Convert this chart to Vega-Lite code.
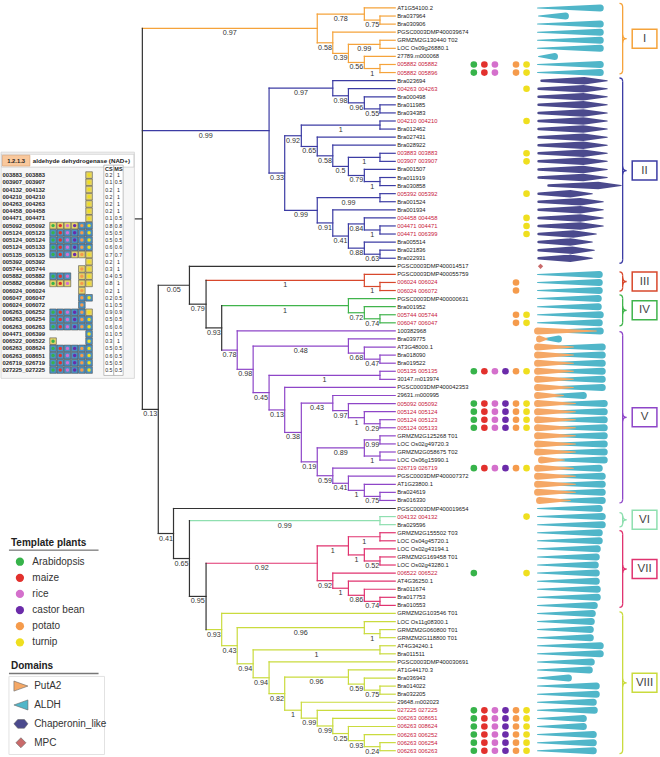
{
"$schema": "https://vega.github.io/schema/vega-lite/v6.json",
"width": 660, "height": 757,
"autosize": {"type": "fit", "contains": "padding"},
"padding": 0,
"background": "white",
"config": {"view": {"stroke": null}, "axis": {"disable": true}, "legend": {"disable": true}, "font": "Liberation Sans"},
"datasets": {
"edges": [
{"p":"top","c":"root","d":130,"e":142,"n":27.126,"g":"K"},
{"p":"root","c":"cI","d":142,"e":317.7,"n":3.5313,"g":"I","b":"0.97"},
{"p":"cI","c":"n78","d":317.7,"e":365,"n":1.75,"g":"I","b":"0.78"},
{"p":"n78","c":"n75","d":365,"e":380.7,"n":2.5,"g":"I","b":"0.75"},
{"p":"cI","c":"n58","d":317.7,"e":333.3,"n":5.3125,"g":"I","b":"0.58"},
{"p":"n58","c":"n39","d":333.3,"e":349,"n":6.625,"g":"I","b":"0.39"},
{"p":"n39","c":"n99a","d":349,"e":380.7,"n":5.5,"g":"I","b":"0.99"},
{"p":"n39","c":"n56","d":349,"e":365,"n":7.75,"g":"I","b":"0.56"},
{"p":"n56","c":"n1a","d":365,"e":380.7,"n":8.5,"g":"I","b":"1"},
{"p":"root","c":"cII","d":142,"e":269.3,"n":16.1914,"g":"II","b":"0.99"},
{"p":"cII","c":"n97b","d":269.3,"e":333.3,"n":10.9375,"g":"II","b":"0.97"},
{"p":"n97b","c":"n98","d":333.3,"e":349,"n":11.875,"g":"II","b":"0.98"},
{"p":"n98","c":"n96","d":349,"e":365,"n":12.75,"g":"II","b":"0.96"},
{"p":"n96","c":"n55","d":365,"e":380.7,"n":13.5,"g":"II","b":"0.55"},
{"p":"cII","c":"n33","d":269.3,"e":285,"n":21.4453,"g":"II","b":"0.33"},
{"p":"n33","c":"n92","d":285,"e":301.7,"n":16.8281,"g":"II","b":"0.92"},
{"p":"n92","c":"n1b","d":301.7,"e":380.7,"n":15.5,"g":"II","b":"1"},
{"p":"n92","c":"n65","d":301.7,"e":317.7,"n":18.1563,"g":"II","b":"0.65"},
{"p":"n65","c":"n58b","d":317.7,"e":333.3,"n":19.3125,"g":"II","b":"0.58"},
{"p":"n58b","c":"n5","d":333.3,"e":349,"n":20.625,"g":"II","b":"0.5"},
{"p":"n5","c":"n1d","d":349,"e":380.7,"n":19.5,"g":"II","b":"1"},
{"p":"n5","c":"n79","d":349,"e":365,"n":21.75,"g":"II","b":"0.79"},
{"p":"n79","c":"n1c","d":365,"e":380.7,"n":22.5,"g":"II","b":"1"},
{"p":"n33","c":"n99d","d":285,"e":317.7,"n":26.0625,"g":"II","b":"0.99"},
{"p":"n99d","c":"n99c","d":317.7,"e":380.7,"n":24.5,"g":"II","b":"0.99"},
{"p":"n99d","c":"n91","d":317.7,"e":333.3,"n":27.625,"g":"II","b":"0.91"},
{"p":"n91","c":"n41","d":333.3,"e":349,"n":29.25,"g":"II","b":"0.41"},
{"p":"n41","c":"n84","d":349,"e":365,"n":27.75,"g":"II","b":"0.84"},
{"p":"n84","c":"n1e","d":365,"e":380.7,"n":28.5,"g":"II","b":"1"},
{"p":"n41","c":"n88","d":349,"e":365,"n":30.75,"g":"II","b":"0.88"},
{"p":"n88","c":"n63","d":365,"e":380.7,"n":31.5,"g":"II","b":"0.63"},
{"p":"root","c":"n13","d":142,"e":158,"n":50.7207,"g":"K","b":"0.13"},
{"p":"n13","c":"n05","d":158,"e":189.3,"n":35.3444,"g":"K","b":"0.05"},
{"p":"n05","c":"n79b","d":189.3,"e":206,"n":37.6887,"g":"K","b":"0.79"},
{"p":"n79b","c":"cIII","d":206,"e":365,"n":34.75,"g":"III","b":"1"},
{"p":"cIII","c":"n1f","d":365,"e":380.7,"n":35.5,"g":"III","b":"1"},
{"p":"n79b","c":"n93","d":206,"e":221.7,"n":40.6274,"g":"K","b":"0.93"},
{"p":"n93","c":"cIV","d":221.7,"e":349,"n":37.875,"g":"IV","b":"1"},
{"p":"cIV","c":"n72","d":349,"e":365,"n":38.75,"g":"IV","b":"0.72"},
{"p":"n72","c":"n74","d":365,"e":380.7,"n":39.5,"g":"IV","b":"0.74"},
{"p":"n93","c":"n78b","d":221.7,"e":237.3,"n":43.3799,"g":"V","b":"0.78"},
{"p":"n78b","c":"n98b","d":237.3,"e":253.3,"n":45.7598,"g":"V","b":"0.98"},
{"p":"n98b","c":"n48","d":253.3,"e":349,"n":42.875,"g":"V","b":"0.48"},
{"p":"n48","c":"n68","d":349,"e":365,"n":43.75,"g":"V","b":"0.68"},
{"p":"n68","c":"n47","d":365,"e":380.7,"n":44.5,"g":"V","b":"0.47"},
{"p":"n98b","c":"n45","d":253.3,"e":269.3,"n":48.6445,"g":"V","b":"0.45"},
{"p":"n45","c":"n1g","d":269.3,"e":380.7,"n":46.5,"g":"V","b":"1"},
{"p":"n45","c":"n13b","d":269.3,"e":285,"n":50.7891,"g":"V","b":"0.13"},
{"p":"n13b","c":"n38","d":285,"e":301.7,"n":53.5781,"g":"V","b":"0.38"},
{"p":"n38","c":"n43","d":301.7,"e":333.3,"n":49.9375,"g":"V","b":"0.43"},
{"p":"n43","c":"n97c","d":333.3,"e":349,"n":50.875,"g":"V","b":"0.97"},
{"p":"n97c","c":"n1h","d":349,"e":365,"n":51.75,"g":"V","b":"1"},
{"p":"n1h","c":"n29","d":365,"e":380.7,"n":52.5,"g":"V","b":"0.29"},
{"p":"n38","c":"n19","d":301.7,"e":317.7,"n":57.2188,"g":"V","b":"0.19"},
{"p":"n19","c":"n89","d":317.7,"e":365,"n":55.5,"g":"V","b":"0.89"},
{"p":"n89","c":"n99e","d":365,"e":380.7,"n":54.5,"g":"V","b":"0.99"},
{"p":"n89","c":"n1i","d":365,"e":380.7,"n":56.5,"g":"V","b":"1"},
{"p":"n19","c":"n59","d":317.7,"e":333.3,"n":58.9375,"g":"V","b":"0.59"},
{"p":"n59","c":"n41b","d":333.3,"e":349,"n":59.875,"g":"V","b":"0.41"},
{"p":"n41b","c":"n1j","d":349,"e":365,"n":60.75,"g":"V","b":"1"},
{"p":"n1j","c":"n75b","d":365,"e":380.7,"n":61.5,"g":"V","b":"0.75"},
{"p":"n13","c":"n41c","d":158,"e":173.3,"n":66.0971,"g":"K","b":"0.41"},
{"p":"n41c","c":"n65b","d":173.3,"e":189.3,"n":69.1942,"g":"K","b":"0.65"},
{"p":"n65b","c":"cVI","d":189.3,"e":380.7,"n":64.5,"g":"VI","b":"0.99"},
{"p":"n65b","c":"n95","d":189.3,"e":206,"n":73.8884,"g":"K","b":"0.95"},
{"p":"n95","c":"cVII","d":206,"e":317.7,"n":69.7813,"g":"VII","b":"0.92"},
{"p":"cVII","c":"n1m","d":317.7,"e":349,"n":67.625,"g":"VII","b":"1"},
{"p":"n1m","c":"n1k","d":349,"e":380.7,"n":66.5,"g":"VII","b":"1"},
{"p":"n1m","c":"n1l","d":349,"e":365,"n":68.75,"g":"VII","b":"1"},
{"p":"n1l","c":"n52","d":365,"e":380.7,"n":69.5,"g":"VII","b":"0.52"},
{"p":"cVII","c":"n92b","d":317.7,"e":333.3,"n":71.9375,"g":"VII","b":"0.92"},
{"p":"n92b","c":"n1n","d":333.3,"e":349,"n":72.875,"g":"VII","b":"1"},
{"p":"n1n","c":"n86","d":349,"e":365,"n":73.75,"g":"VII","b":"0.86"},
{"p":"n86","c":"n74b","d":365,"e":380.7,"n":74.5,"g":"VII","b":"0.74"},
{"p":"n95","c":"cVIII","d":206,"e":221.7,"n":77.9956,"g":"VIII","b":"0.93"},
{"p":"cVIII","c":"n43b","d":221.7,"e":237.3,"n":79.9912,"g":"VIII","b":"0.43"},
{"p":"n43b","c":"n96b","d":237.3,"e":365,"n":77.75,"g":"VIII","b":"0.96"},
{"p":"n96b","c":"n1o","d":365,"e":380.7,"n":78.5,"g":"VIII","b":"1"},
{"p":"n43b","c":"n94a","d":237.3,"e":253.3,"n":82.2324,"g":"VIII","b":"0.94"},
{"p":"n94a","c":"n1p","d":253.3,"e":380.7,"n":80.5,"g":"VIII","b":"1"},
{"p":"n94a","c":"n94b","d":253.3,"e":269.3,"n":83.9648,"g":"VIII","b":"0.94"},
{"p":"n94b","c":"n82","d":269.3,"e":285,"n":85.9297,"g":"VIII","b":"0.82"},
{"p":"n82","c":"n96c","d":285,"e":349,"n":83.875,"g":"VIII","b":"0.96"},
{"p":"n96c","c":"n59b","d":349,"e":365,"n":84.75,"g":"VIII","b":"0.59"},
{"p":"n59b","c":"n75c","d":365,"e":380.7,"n":85.5,"g":"VIII","b":"0.75"},
{"p":"n82","c":"n1q","d":285,"e":301.7,"n":87.9844,"g":"VIII","b":"1"},
{"p":"n1q","c":"n99g","d":301.7,"e":317.7,"n":88.9688,"g":"VIII","b":"0.99"},
{"p":"n99g","c":"n99f","d":317.7,"e":333.3,"n":89.9375,"g":"VIII","b":"0.99"},
{"p":"n99f","c":"n25","d":333.3,"e":349,"n":90.875,"g":"VIII","b":"0.25"},
{"p":"n25","c":"n93b","d":349,"e":365,"n":91.75,"g":"VIII","b":"0.93"},
{"p":"n93b","c":"n24","d":365,"e":380.7,"n":92.5,"g":"VIII","b":"0.24"},
{"p":"n78","d":365,"n":1,"g":"I","t":"AT1G54100.2"},
{"p":"n75","d":380.7,"n":2,"g":"I","t":"Bra037964"},
{"p":"n75","d":380.7,"n":3,"g":"I","t":"Bra030906"},
{"p":"n58","d":333.3,"n":4,"g":"I","t":"PGSC0003DMP400039674"},
{"p":"n99a","d":380.7,"n":5,"g":"I","t":"GRMZM2G130440 T02"},
{"p":"n99a","d":380.7,"n":6,"g":"I","t":"LOC Os09g26880.1"},
{"p":"n56","d":365,"n":7,"g":"I","t":"27789.m000068"},
{"p":"n1a","d":380.7,"n":8,"g":"I","t":"005882 005882","r":1},
{"p":"n1a","d":380.7,"n":9,"g":"I","t":"005882 005896","r":1},
{"p":"n97b","d":333.3,"n":10,"g":"II","t":"Bra023694"},
{"p":"n98","d":349,"n":11,"g":"II","t":"004263 004263","r":1},
{"p":"n96","d":365,"n":12,"g":"II","t":"Bra000498"},
{"p":"n55","d":380.7,"n":13,"g":"II","t":"Bra011985"},
{"p":"n55","d":380.7,"n":14,"g":"II","t":"Bra034383"},
{"p":"n1b","d":380.7,"n":15,"g":"II","t":"004210 004210","r":1},
{"p":"n1b","d":380.7,"n":16,"g":"II","t":"Bra012462"},
{"p":"n65","d":317.7,"n":17,"g":"II","t":"Bra027431"},
{"p":"n58b","d":333.3,"n":18,"g":"II","t":"Bra028922"},
{"p":"n1d","d":380.7,"n":19,"g":"II","t":"003883 003883","r":1},
{"p":"n1d","d":380.7,"n":20,"g":"II","t":"003907 003907","r":1},
{"p":"n79","d":365,"n":21,"g":"II","t":"Bra001507"},
{"p":"n1c","d":380.7,"n":22,"g":"II","t":"Bra011919"},
{"p":"n1c","d":380.7,"n":23,"g":"II","t":"Bra030858"},
{"p":"n99c","d":380.7,"n":24,"g":"II","t":"005392 005392","r":1},
{"p":"n99c","d":380.7,"n":25,"g":"II","t":"Bra001524"},
{"p":"n91","d":333.3,"n":26,"g":"II","t":"Bra001934"},
{"p":"n84","d":365,"n":27,"g":"II","t":"004458 004458","r":1},
{"p":"n1e","d":380.7,"n":28,"g":"II","t":"004471 004471","r":1},
{"p":"n1e","d":380.7,"n":29,"g":"II","t":"004471 006399","r":1},
{"p":"n88","d":365,"n":30,"g":"II","t":"Bra005514"},
{"p":"n63","d":380.7,"n":31,"g":"II","t":"Bra021836"},
{"p":"n63","d":380.7,"n":32,"g":"II","t":"Bra022931"},
{"p":"n05","d":189.3,"n":33,"g":"K","t":"PGSC0003DMP400014517"},
{"p":"cIII","d":365,"n":34,"g":"III","t":"PGSC0003DMP400055759"},
{"p":"n1f","d":380.7,"n":35,"g":"III","t":"006024 006024","r":1},
{"p":"n1f","d":380.7,"n":36,"g":"III","t":"006024 006072","r":1},
{"p":"cIV","d":349,"n":37,"g":"IV","t":"PGSC0003DMP400000631"},
{"p":"n72","d":365,"n":38,"g":"IV","t":"Bra001952"},
{"p":"n74","d":380.7,"n":39,"g":"IV","t":"005744 005744","r":1},
{"p":"n74","d":380.7,"n":40,"g":"IV","t":"006047 006047","r":1},
{"p":"n78b","d":237.3,"n":41,"g":"V","t":"100382968"},
{"p":"n48","d":349,"n":42,"g":"V","t":"Bra039775"},
{"p":"n68","d":365,"n":43,"g":"V","t":"AT3G48000.1"},
{"p":"n47","d":380.7,"n":44,"g":"V","t":"Bra018090"},
{"p":"n47","d":380.7,"n":45,"g":"V","t":"Bra019522"},
{"p":"n1g","d":380.7,"n":46,"g":"V","t":"005135 005135","r":1},
{"p":"n1g","d":380.7,"n":47,"g":"V","t":"30147.m013974"},
{"p":"n13b","d":285,"n":48,"g":"V","t":"PGSC0003DMP400042353"},
{"p":"n43","d":333.3,"n":49,"g":"V","t":"29631.m000995"},
{"p":"n97c","d":349,"n":50,"g":"V","t":"005092 005092","r":1},
{"p":"n1h","d":365,"n":51,"g":"V","t":"005124 005124","r":1},
{"p":"n29","d":380.7,"n":52,"g":"V","t":"005124 005123","r":1},
{"p":"n29","d":380.7,"n":53,"g":"V","t":"005124 005133","r":1},
{"p":"n99e","d":380.7,"n":54,"g":"V","t":"GRMZM2G125268 T01"},
{"p":"n99e","d":380.7,"n":55,"g":"V","t":"LOC Os02g49720.3"},
{"p":"n1i","d":380.7,"n":56,"g":"V","t":"GRMZM2G058675 T02"},
{"p":"n1i","d":380.7,"n":57,"g":"V","t":"LOC Os06g15990.1"},
{"p":"n59","d":333.3,"n":58,"g":"V","t":"026719 026719","r":1},
{"p":"n41b","d":349,"n":59,"g":"V","t":"PGSC0003DMP400007372"},
{"p":"n1j","d":365,"n":60,"g":"V","t":"AT1G23800.1"},
{"p":"n75b","d":380.7,"n":61,"g":"V","t":"Bra024619"},
{"p":"n75b","d":380.7,"n":62,"g":"V","t":"Bra016330"},
{"p":"n41c","d":173.3,"n":63,"g":"K","t":"PGSC0003DMP400019654"},
{"p":"cVI","d":380.7,"n":64,"g":"VI","t":"004132 004132","r":1},
{"p":"cVI","d":380.7,"n":65,"g":"VI","t":"Bra029596"},
{"p":"n1k","d":380.7,"n":66,"g":"VII","t":"GRMZM2G155502 T03"},
{"p":"n1k","d":380.7,"n":67,"g":"VII","t":"LOC Os04g45720.1"},
{"p":"n1l","d":365,"n":68,"g":"VII","t":"LOC Os02g43194.1"},
{"p":"n52","d":380.7,"n":69,"g":"VII","t":"GRMZM2G169458 T01"},
{"p":"n52","d":380.7,"n":70,"g":"VII","t":"LOC Os02g43280.1"},
{"p":"n92b","d":333.3,"n":71,"g":"VII","t":"006522 006522","r":1},
{"p":"n1n","d":349,"n":72,"g":"VII","t":"AT4G36250.1"},
{"p":"n86","d":365,"n":73,"g":"VII","t":"Bra011674"},
{"p":"n74b","d":380.7,"n":74,"g":"VII","t":"Bra017753"},
{"p":"n74b","d":380.7,"n":75,"g":"VII","t":"Bra010553"},
{"p":"cVIII","d":221.7,"n":76,"g":"VIII","t":"GRMZM2G103546 T01"},
{"p":"n96b","d":365,"n":77,"g":"VIII","t":"LOC Os11g08300.1"},
{"p":"n1o","d":380.7,"n":78,"g":"VIII","t":"GRMZM2G060800 T01"},
{"p":"n1o","d":380.7,"n":79,"g":"VIII","t":"GRMZM2G118800 T01"},
{"p":"n1p","d":380.7,"n":80,"g":"VIII","t":"AT4G34240.1"},
{"p":"n1p","d":380.7,"n":81,"g":"VIII","t":"Bra011511"},
{"p":"n94b","d":269.3,"n":82,"g":"VIII","t":"PGSC0003DMP400030691"},
{"p":"n96c","d":349,"n":83,"g":"VIII","t":"AT1G44170.3"},
{"p":"n59b","d":365,"n":84,"g":"VIII","t":"Bra036943"},
{"p":"n75c","d":380.7,"n":85,"g":"VIII","t":"Bra014022"},
{"p":"n75c","d":380.7,"n":86,"g":"VIII","t":"Bra032205"},
{"p":"n1q","d":301.7,"n":87,"g":"VIII","t":"29648.m002023"},
{"p":"n99g","d":317.7,"n":88,"g":"VIII","t":"027225 027225","r":1},
{"p":"n99f","d":333.3,"n":89,"g":"VIII","t":"006263 008651","r":1},
{"p":"n25","d":349,"n":90,"g":"VIII","t":"006263 008624","r":1},
{"p":"n93b","d":365,"n":91,"g":"VIII","t":"006263 006252","r":1},
{"p":"n24","d":380.7,"n":92,"g":"VIII","t":"006263 006254","r":1},
{"p":"n24","d":380.7,"n":93,"g":"VIII","t":"006263 006263","r":1}
],
"dots": [
{"n":8,"sp":["At","Zm","Os","St","Br"]},{"n":9,"sp":["At","Zm","Os","St","Br"]},
{"n":11,"sp":["Br"]},{"n":15,"sp":["Br"]},{"n":19,"sp":["Br"]},{"n":20,"sp":["Br"]},{"n":24,"sp":["Br"]},
{"n":27,"sp":["Br"]},{"n":28,"sp":["Br"]},{"n":29,"sp":["Br"]},
{"n":35,"sp":["St"]},{"n":36,"sp":["St"]},{"n":39,"sp":["St","Br"]},{"n":40,"sp":["St","Br"]},
{"n":46,"sp":["At","Zm","Os","Rc","St","Br"]},{"n":50,"sp":["At","Zm","Os","Rc","St","Br"]},
{"n":51,"sp":["At","Zm","Os","Rc","St","Br"]},{"n":52,"sp":["At","Zm","Os","Rc","St","Br"]},
{"n":53,"sp":["At","Zm","Os","Rc","St","Br"]},{"n":58,"sp":["At","Zm","Os","Rc","St","Br"]},
{"n":64,"sp":["Br"]},{"n":71,"sp":["At","Br"]},
{"n":88,"sp":["At","Zm","Os","Rc","St","Br"]},{"n":89,"sp":["At","Zm","Os","Rc","St","Br"]},
{"n":90,"sp":["At","Zm","Os","Rc","St","Br"]},{"n":91,"sp":["At","Zm","Os","Rc","St","Br"]},
{"n":92,"sp":["At","Zm","Os","Rc","St","Br"]},{"n":93,"sp":["At","Zm","Os","Rc","St","Br"]}
],
"wap": [
{"n":1,"k":"A","s":539,"e":602},{"n":2,"k":"A","s":540,"e":567},{"n":3,"k":"A","s":539,"e":602},
{"n":4,"k":"A","s":539,"e":602},{"n":5,"k":"A","s":539,"e":602},{"n":6,"k":"A","s":539,"e":602},
{"n":7,"k":"A","s":540,"e":556},{"n":8,"k":"A","s":539,"e":602},{"n":9,"k":"A","s":539,"e":602},
{"n":34,"k":"A","s":539,"e":601},{"n":35,"k":"A","s":539,"e":601},{"n":36,"k":"A","s":539,"e":601},
{"n":37,"k":"A","s":539,"e":600},{"n":38,"k":"A","s":539,"e":600},{"n":39,"k":"A","s":539,"e":602},
{"n":40,"k":"A","s":539,"e":601},
{"n":41,"k":"A","s":539,"e":602},{"n":42,"k":"A","s":544,"e":560},{"n":43,"k":"A","s":539,"e":604},
{"n":44,"k":"A","s":539,"e":604},{"n":45,"k":"A","s":539,"e":604},{"n":46,"k":"A","s":539,"e":604},
{"n":47,"k":"A","s":539,"e":604},{"n":48,"k":"A","s":539,"e":604},{"n":49,"k":"A","s":539,"e":585},
{"n":50,"k":"A","s":539,"e":606},{"n":51,"k":"A","s":539,"e":606},{"n":52,"k":"A","s":539,"e":606},
{"n":53,"k":"A","s":539,"e":606},{"n":54,"k":"A","s":539,"e":606},{"n":55,"k":"A","s":539,"e":606},
{"n":56,"k":"A","s":539,"e":606},{"n":57,"k":"A","s":543,"e":606},{"n":58,"k":"A","s":539,"e":601},
{"n":59,"k":"A","s":539,"e":604},{"n":60,"k":"A","s":539,"e":604},{"n":61,"k":"A","s":539,"e":604},
{"n":62,"k":"A","s":541,"e":604},
{"n":63,"k":"A","s":539,"e":601},{"n":64,"k":"A","s":539,"e":604},{"n":65,"k":"A","s":539,"e":604},
{"n":66,"k":"A","s":539,"e":601},{"n":67,"k":"A","s":539,"e":601},{"n":68,"k":"A","s":539,"e":599},
{"n":69,"k":"A","s":539,"e":598},{"n":70,"k":"A","s":539,"e":597},{"n":71,"k":"A","s":539,"e":598},
{"n":72,"k":"A","s":539,"e":598},{"n":73,"k":"A","s":539,"e":599},{"n":74,"k":"A","s":539,"e":599},
{"n":75,"k":"A","s":539,"e":596},
{"n":76,"k":"A","s":539,"e":594},{"n":77,"k":"A","s":539,"e":593},{"n":78,"k":"A","s":539,"e":592},
{"n":79,"k":"A","s":539,"e":592},{"n":80,"k":"A","s":539,"e":602},{"n":81,"k":"A","s":539,"e":602},
{"n":82,"k":"A","s":539,"e":593},{"n":83,"k":"A","s":539,"e":591},{"n":84,"k":"A","s":539,"e":570},
{"n":85,"k":"A","s":539,"e":598},{"n":86,"k":"A","s":539,"e":598},{"n":87,"k":"A","s":539,"e":595},
{"n":88,"k":"A","s":539,"e":596},{"n":89,"k":"A","s":539,"e":585},{"n":90,"k":"A","s":539,"e":585},
{"n":91,"k":"A","s":539,"e":595},{"n":92,"k":"A","s":539,"e":595},{"n":93,"k":"A","s":539,"e":595},
{"n":41,"k":"P","s":598,"e":539},{"n":42,"k":"P","s":549,"e":541},{"n":43,"k":"P","s":575,"e":539},
{"n":44,"k":"P","s":575,"e":539},{"n":45,"k":"P","s":575,"e":539},{"n":46,"k":"P","s":575,"e":539},
{"n":47,"k":"P","s":575,"e":539},{"n":48,"k":"P","s":575,"e":539},{"n":49,"k":"P","s":565,"e":539},
{"n":50,"k":"P","s":577,"e":539},{"n":51,"k":"P","s":577,"e":539},{"n":52,"k":"P","s":577,"e":539},
{"n":53,"k":"P","s":577,"e":539},{"n":54,"k":"P","s":577,"e":539},{"n":55,"k":"P","s":577,"e":539},
{"n":56,"k":"P","s":577,"e":539},{"n":57,"k":"P","s":566,"e":543},{"n":58,"k":"P","s":575,"e":539},
{"n":59,"k":"P","s":577,"e":539},{"n":60,"k":"P","s":577,"e":539},{"n":61,"k":"P","s":577,"e":539},
{"n":62,"k":"P","s":572,"e":541}
],
"wc": [
{"n":10,"a":543,"b":586,"c":609},{"n":11,"a":540,"b":585,"c":609},{"n":12,"a":540,"b":585,"c":609},
{"n":13,"a":540,"b":585,"c":609},{"n":14,"a":540,"b":585,"c":609},{"n":15,"a":540,"b":585,"c":609},
{"n":16,"a":540,"b":585,"c":609},{"n":17,"a":540,"b":585,"c":609},{"n":18,"a":540,"b":585,"c":609},
{"n":19,"a":540,"b":585,"c":609},{"n":20,"a":540,"b":585,"c":609},{"n":21,"a":540,"b":585,"c":609},
{"n":22,"a":540,"b":585,"c":609},{"n":23,"a":550,"b":600,"c":623},{"n":24,"a":540,"b":572,"c":594},
{"n":25,"a":540,"b":582,"c":605},{"n":26,"a":540,"b":582,"c":605},{"n":27,"a":540,"b":582,"c":605},
{"n":28,"a":540,"b":582,"c":605},{"n":29,"a":540,"b":575,"c":598},{"n":30,"a":540,"b":572,"c":594},
{"n":31,"a":540,"b":574,"c":596},{"n":32,"a":540,"b":572,"c":594}
],
"clades": [
{"cl":"I","t":0.877,"m":4.807,"b":8.725},
{"cl":"II","t":10.118,"m":21.145,"b":32.173},
{"cl":"III","t":34.144,"m":34.884,"b":35.623},
{"cl":"IV","t":36.978,"m":38.457,"b":39.935},
{"cl":"V","t":41.537,"m":51.703,"b":61.868},
{"cl":"VI","t":63.964,"m":64.395,"b":64.826},
{"cl":"VII","t":66.18,"m":70.493,"b":74.805},
{"cl":"VIII","t":76.246,"m":84.588,"b":92.918}
],
"inset": [
{"r":0,"g":"003883_003883","sp":["Br"],"bg":["Y"],"cs":"0.2","ms":"1"},
{"r":1,"g":"003907_003907","sp":["Br"],"bg":["Y"],"cs":"0.1","ms":"0.5"},
{"r":2,"g":"004132_004132","sp":["Br"],"bg":["Y"],"cs":"0.2","ms":"1"},
{"r":3,"g":"004210_004210","sp":["Br"],"bg":["Y"],"cs":"0.2","ms":"1"},
{"r":4,"g":"004263_004263","sp":["Br"],"bg":["Y"],"cs":"0.2","ms":"1"},
{"r":5,"g":"004458_004458","sp":["Br"],"bg":["Y"],"cs":"0.2","ms":"1"},
{"r":6,"g":"004471_004471","sp":["Br"],"bg":["Y"],"cs":"0.1","ms":"0.5"},
{"r":7,"g":"005092_005092","sp":["At","Zm","Os","Rc","St","Br"],"bg":["Y","Y","Y","Y","L","L"],"cs":"0.8","ms":"0.8"},
{"r":8,"g":"005124_005123","sp":["At","Zm","Os","Rc","St","Br"],"bg":["L","L","L","L","L","L"],"cs":"0.5","ms":"0.5"},
{"r":9,"g":"005124_005124","sp":["At","Zm","Os","Rc","St","Br"],"bg":["L","L","L","L","L","L"],"cs":"0.5","ms":"0.5"},
{"r":10,"g":"005124_005133","sp":["At","Zm","Os","Rc","St","Br"],"bg":["L","L","L","L","L","L"],"cs":"0.6","ms":"0.6"},
{"r":11,"g":"005135_005135","sp":["At","Zm","Os","Rc","St","Br"],"bg":["L","L","L","Y","Y","Y"],"cs":"0.7","ms":"0.7"},
{"r":12,"g":"005392_005392","sp":["Br"],"bg":["Y"],"cs":"0.2","ms":"1"},
{"r":13,"g":"005744_005744","sp":["St","Br"],"bg":["Y","Y"],"cs":"0.3","ms":"1"},
{"r":14,"g":"005882_005882","sp":["At","Zm","Os","St","Br"],"bg":["L","L","L","Y","Y"],"cs":"0.4","ms":"0.5"},
{"r":15,"g":"005882_005896","sp":["At","Zm","Os","St","Br"],"bg":["Y","Y","Y","Y","Y"],"cs":"0.8","ms":"1"},
{"r":16,"g":"006024_006024","sp":["St"],"bg":["Y"],"cs":"0.2","ms":"1"},
{"r":17,"g":"006047_006047","sp":["St","Br"],"bg":["L","L"],"cs":"0.2","ms":"0.5"},
{"r":18,"g":"006024_006072","sp":["St"],"bg":["L"],"cs":"0.1","ms":"0.5"},
{"r":19,"g":"006263_006252","sp":["At","Zm","Os","Rc","St","Br"],"bg":["L","L","L","L","L","Y"],"cs":"0.9","ms":"0.9"},
{"r":20,"g":"006263_006254","sp":["At","Zm","Os","Rc","St","Br"],"bg":["L","L","L","L","L","L"],"cs":"0.5","ms":"0.5"},
{"r":21,"g":"006263_006263","sp":["At","Zm","Os","Rc","St","Br"],"bg":["L","L","L","L","L","L"],"cs":"0.6","ms":"0.6"},
{"r":22,"g":"004471_006399","sp":["Br"],"bg":["L"],"cs":"0.1","ms":"0.5"},
{"r":23,"g":"006522_006522","sp":["At","Br"],"bg":["Y","L"],"cs":"0.3","ms":"1"},
{"r":24,"g":"006263_008624","sp":["At","Zm","Os","Rc","St","Br"],"bg":["L","L","L","L","L","L"],"cs":"0.5","ms":"0.5"},
{"r":25,"g":"006263_008651","sp":["At","Zm","Os","Rc","St","Br"],"bg":["L","L","L","L","L","L"],"cs":"0.6","ms":"0.5"},
{"r":26,"g":"026719_026719","sp":["At","Zm","Os","Rc","St","Br"],"bg":["L","L","L","L","L","L"],"cs":"0.5","ms":"0.5"},
{"r":27,"g":"027225_027225","sp":["At","Zm","Os","Rc","St","Br"],"bg":["L","L","L","L","L","L"],"cs":"0.5","ms":"0.5"}
],
"plants": [
{"k":0,"sp":"At","lab":"Arabidopsis"},{"k":1,"sp":"Zm","lab":"maize"},{"k":2,"sp":"Os","lab":"rice"},
{"k":3,"sp":"Rc","lab":"castor bean"},{"k":4,"sp":"St","lab":"potato"},{"k":5,"sp":"Br","lab":"turnip"}
],
"doms": [
{"k":0,"dm":"P","lab":"PutA2"},{"k":1,"dm":"A","lab":"ALDH"},{"k":2,"dm":"C","lab":"Chaperonin_like"},{"k":3,"dm":"M","lab":"MPC"}
]
},
"layer": [
{
"layer": [
{"data": {"name": "edges"}, "transform": [{"filter": "isValid(datum.c)"}],
 "mark": {"type": "rule", "strokeWidth": 1.2, "strokeCap": "square"},
 "encoding": {
  "x": {"field": "d", "type": "quantitative", "scale": {"domain": [0, 660], "nice": false, "zero": false}},
  "x2": {"field": "e"},
  "y": {"field": "n", "type": "quantitative", "scale": {"domain": [0.384, 93.656], "reverse": true, "nice": false, "zero": false}},
  "color": {"field": "g", "type": "nominal", "scale": {"domain": ["K","I","II","III","IV","V","VI","VII","VIII"], "range": ["#333333","#f5a33b","#3c3ca4","#d8482c","#40b44c","#8e46c8","#8fdfb0","#e0336f","#cadb3e"]}}
 }},
{"data": {"name": "edges"}, "transform": [{"filter": "isValid(datum.t)"}],
 "mark": {"type": "rule", "strokeWidth": 1.2, "strokeCap": "square"},
 "encoding": {
  "x": {"field": "d", "type": "quantitative", "scale": {"domain": [0, 660], "nice": false, "zero": false}},
  "x2": {"datum": 396},
  "y": {"field": "n", "type": "quantitative", "scale": {"domain": [0.384, 93.656], "reverse": true, "nice": false, "zero": false}},
  "color": {"field": "g", "type": "nominal", "scale": {"domain": ["K","I","II","III","IV","V","VI","VII","VIII"], "range": ["#333333","#f5a33b","#3c3ca4","#d8482c","#40b44c","#8e46c8","#8fdfb0","#e0336f","#cadb3e"]}}
 }},
{"data": {"name": "edges"},
 "transform": [
  {"filter": "datum.p != 'top'"},
  {"aggregate": [{"op": "min", "field": "n", "as": "lo"}, {"op": "max", "field": "n", "as": "hi"}], "groupby": ["p", "d"]},
  {"lookup": "p", "from": {"data": {"name": "edges"}, "key": "c", "fields": ["g"]}}
 ],
 "mark": {"type": "rule", "strokeWidth": 1.2, "strokeCap": "square"},
 "encoding": {
  "x": {"field": "d", "type": "quantitative", "scale": {"domain": [0, 660], "nice": false, "zero": false}},
  "y": {"field": "lo", "type": "quantitative", "scale": {"domain": [0.384, 93.656], "reverse": true, "nice": false, "zero": false}},
  "y2": {"field": "hi"},
  "color": {"field": "g", "type": "nominal", "scale": {"domain": ["K","I","II","III","IV","V","VI","VII","VIII"], "range": ["#333333","#f5a33b","#3c3ca4","#d8482c","#40b44c","#8e46c8","#8fdfb0","#e0336f","#cadb3e"]}}
 }},
{"data": {"name": "edges"},
 "transform": [{"filter": "isValid(datum.b)"}, {"fold": ["d", "e"], "as": ["fk", "fv"]}],
 "mark": {"type": "text", "fontSize": 7.2, "baseline": "top", "dy": 1, "color": "#333333"},
 "encoding": {
  "x": {"aggregate": "mean", "field": "fv", "type": "quantitative", "scale": {"domain": [0, 660], "nice": false, "zero": false}},
  "y": {"field": "n", "type": "quantitative", "scale": {"domain": [0.384, 93.656], "reverse": true, "nice": false, "zero": false}},
  "text": {"field": "b", "type": "nominal"},
  "detail": {"field": "c", "type": "nominal"}
 }},
{"data": {"name": "edges"}, "transform": [{"filter": "isValid(datum.t)"}],
 "mark": {"type": "text", "fontSize": 5.8, "align": "left", "baseline": "middle"},
 "encoding": {
  "x": {"datum": 398, "scale": {"domain": [0, 660], "nice": false, "zero": false}},
  "y": {"field": "n", "type": "quantitative", "scale": {"domain": [0.384, 93.656], "reverse": true, "nice": false, "zero": false}},
  "text": {"field": "t", "type": "nominal"},
  "color": {"condition": {"test": "datum.r == 1", "value": "#c8193c"}, "value": "#222222"}
 }},
{"data": {"name": "dots"}, "transform": [{"flatten": ["sp"]}],
 "mark": {"type": "circle", "size": 44, "opacity": 1},
 "encoding": {
  "x": {"datum": 475, "scale": {"domain": [0, 660], "nice": false, "zero": false}},
  "xOffset": {"field": "sp", "type": "nominal", "scale": {"type": "point", "domain": ["At","Zm","Os","Rc","St","Br"], "range": [0, 52.7], "padding": 0}},
  "y": {"field": "n", "type": "quantitative", "scale": {"domain": [0.384, 93.656], "reverse": true, "nice": false, "zero": false}},
  "fill": {"field": "sp", "type": "nominal", "scale": {"domain": ["At","Zm","Os","Rc","St","Br","A","P","C","M","Y","L"], "range": ["#37b34a","#e2312d","#d470cc","#6b2ba9","#f59b4c","#efdf1f","#50b6c9","#f5a866","#4b4a8d","#c96a6a","#e4d36c","#4c92c3"]}}
 }},
{"data": {"name": "wap"}, "transform": [{"filter": "datum.k == 'A'"}, {"fold": ["s", "e"], "as": ["key", "xv"]}],
 "mark": {"type": "trail", "opacity": 1},
 "encoding": {
  "x": {"field": "xv", "type": "quantitative", "scale": {"domain": [0, 660], "nice": false, "zero": false}},
  "y": {"field": "n", "type": "quantitative", "scale": {"domain": [0.384, 93.656], "reverse": true, "nice": false, "zero": false}},
  "size": {"field": "key", "type": "ordinal", "scale": {"type": "ordinal", "domain": ["s","e","a","b","c"], "range": [0, 7, 2.5, 7.5, 0]}},
  "fill": {"field": "k", "type": "nominal", "scale": {"domain": ["At","Zm","Os","Rc","St","Br","A","P","C","M","Y","L"], "range": ["#37b34a","#e2312d","#d470cc","#6b2ba9","#f59b4c","#efdf1f","#50b6c9","#f5a866","#4b4a8d","#c96a6a","#e4d36c","#4c92c3"]}},
  "detail": {"field": "n", "type": "nominal"},
  "order": {"field": "xv", "type": "quantitative"}
 }},
{"data": {"name": "wap"}, "transform": [{"filter": "datum.k == 'P'"}, {"fold": ["s", "e"], "as": ["key", "xv"]}],
 "mark": {"type": "trail", "opacity": 1},
 "encoding": {
  "x": {"field": "xv", "type": "quantitative", "scale": {"domain": [0, 660], "nice": false, "zero": false}},
  "y": {"field": "n", "type": "quantitative", "scale": {"domain": [0.384, 93.656], "reverse": true, "nice": false, "zero": false}},
  "size": {"field": "key", "type": "ordinal", "scale": {"type": "ordinal", "domain": ["s","e","a","b","c"], "range": [0, 7, 2.5, 7.5, 0]}},
  "fill": {"field": "k", "type": "nominal", "scale": {"domain": ["At","Zm","Os","Rc","St","Br","A","P","C","M","Y","L"], "range": ["#37b34a","#e2312d","#d470cc","#6b2ba9","#f59b4c","#efdf1f","#50b6c9","#f5a866","#4b4a8d","#c96a6a","#e4d36c","#4c92c3"]}},
  "detail": {"field": "n", "type": "nominal"},
  "order": {"field": "xv", "type": "quantitative"}
 }},
{"data": {"name": "wc"}, "transform": [{"fold": ["a", "b", "c"], "as": ["key", "xv"]}],
 "mark": {"type": "trail", "opacity": 1},
 "encoding": {
  "x": {"field": "xv", "type": "quantitative", "scale": {"domain": [0, 660], "nice": false, "zero": false}},
  "y": {"field": "n", "type": "quantitative", "scale": {"domain": [0.384, 93.656], "reverse": true, "nice": false, "zero": false}},
  "size": {"field": "key", "type": "ordinal", "scale": {"type": "ordinal", "domain": ["s","e","a","b","c"], "range": [0, 7, 2.5, 7.5, 0]}},
  "fill": {"datum": "C", "type": "nominal", "scale": {"domain": ["At","Zm","Os","Rc","St","Br","A","P","C","M","Y","L"], "range": ["#37b34a","#e2312d","#d470cc","#6b2ba9","#f59b4c","#efdf1f","#50b6c9","#f5a866","#4b4a8d","#c96a6a","#e4d36c","#4c92c3"]}},
  "detail": {"field": "n", "type": "nominal"},
  "order": {"field": "xv", "type": "quantitative"}
 }},
{"data": {"values": [{"n": 33, "k": "M"}]},
 "mark": {"type": "point", "shape": "diamond", "filled": true, "size": 28, "opacity": 1},
 "encoding": {
  "x": {"datum": 542, "scale": {"domain": [0, 660], "nice": false, "zero": false}},
  "y": {"field": "n", "type": "quantitative", "scale": {"domain": [0.384, 93.656], "reverse": true, "nice": false, "zero": false}},
  "fill": {"field": "k", "type": "nominal", "scale": {"domain": ["At","Zm","Os","Rc","St","Br","A","P","C","M","Y","L"], "range": ["#37b34a","#e2312d","#d470cc","#6b2ba9","#f59b4c","#efdf1f","#50b6c9","#f5a866","#4b4a8d","#c96a6a","#e4d36c","#4c92c3"]}}
 }},
{"data": {"name": "clades"},
 "mark": {"type": "rule", "strokeWidth": 1.3},
 "encoding": {
  "x": {"datum": 624.5, "scale": {"domain": [0, 660], "nice": false, "zero": false}},
  "y": {"field": "t", "type": "quantitative", "scale": {"domain": [0.384, 93.656], "reverse": true, "nice": false, "zero": false}},
  "y2": {"field": "b"},
  "stroke": {"field": "cl", "type": "nominal", "scale": {"domain": ["I","II","III","IV","V","VI","VII","VIII"], "range": ["#f5a33b","#3c3ca4","#d8482c","#40b44c","#8e46c8","#8fdfb0","#e0336f","#cadb3e"]}}
 }},
{"data": {"name": "clades"},
 "mark": {"type": "point", "shape": "M0,0C0,-0.6 -0.3,-0.9 -0.8,-0.9", "filled": false, "size": 64, "strokeWidth": 1.3, "opacity": 1},
 "encoding": {
  "x": {"datum": 624.5, "scale": {"domain": [0, 660], "nice": false, "zero": false}},
  "y": {"field": "t", "type": "quantitative", "scale": {"domain": [0.384, 93.656], "reverse": true, "nice": false, "zero": false}},
  "stroke": {"field": "cl", "type": "nominal", "scale": {"domain": ["I","II","III","IV","V","VI","VII","VIII"], "range": ["#f5a33b","#3c3ca4","#d8482c","#40b44c","#8e46c8","#8fdfb0","#e0336f","#cadb3e"]}}
 }},
{"data": {"name": "clades"},
 "mark": {"type": "point", "shape": "M0,0C0,0.6 -0.3,0.9 -0.8,0.9", "filled": false, "size": 64, "strokeWidth": 1.3, "opacity": 1},
 "encoding": {
  "x": {"datum": 624.5, "scale": {"domain": [0, 660], "nice": false, "zero": false}},
  "y": {"field": "b", "type": "quantitative", "scale": {"domain": [0.384, 93.656], "reverse": true, "nice": false, "zero": false}},
  "stroke": {"field": "cl", "type": "nominal", "scale": {"domain": ["I","II","III","IV","V","VI","VII","VIII"], "range": ["#f5a33b","#3c3ca4","#d8482c","#40b44c","#8e46c8","#8fdfb0","#e0336f","#cadb3e"]}}
 }},
{"data": {"name": "clades"},
 "mark": {"type": "point", "shape": "M0,-1C0,-0.3 0.3,0 1,0C0.3,0 0,0.3 0,1", "filled": false, "size": 64, "strokeWidth": 1.3, "opacity": 1},
 "encoding": {
  "x": {"datum": 624.5, "scale": {"domain": [0, 660], "nice": false, "zero": false}},
  "y": {"field": "m", "type": "quantitative", "scale": {"domain": [0.384, 93.656], "reverse": true, "nice": false, "zero": false}},
  "stroke": {"field": "cl", "type": "nominal", "scale": {"domain": ["I","II","III","IV","V","VI","VII","VIII"], "range": ["#f5a33b","#3c3ca4","#d8482c","#40b44c","#8e46c8","#8fdfb0","#e0336f","#cadb3e"]}}
 }},
{"data": {"name": "clades"},
 "mark": {"type": "point", "shape": "M-1.3,-1H1.3V1H-1.3Z", "filled": true, "fill": "white", "size": 361, "strokeWidth": 1.5, "opacity": 1},
 "encoding": {
  "x": {"datum": 646.5, "scale": {"domain": [0, 660], "nice": false, "zero": false}},
  "y": {"field": "m", "type": "quantitative", "scale": {"domain": [0.384, 93.656], "reverse": true, "nice": false, "zero": false}},
  "stroke": {"field": "cl", "type": "nominal", "scale": {"domain": ["I","II","III","IV","V","VI","VII","VIII"], "range": ["#f5a33b","#3c3ca4","#d8482c","#40b44c","#8e46c8","#8fdfb0","#e0336f","#cadb3e"]}}
 }},
{"data": {"name": "clades"},
 "mark": {"type": "text", "fontSize": 11.5, "color": "#444444", "align": "center", "baseline": "middle"},
 "encoding": {
  "x": {"datum": 646.5, "scale": {"domain": [0, 660], "nice": false, "zero": false}},
  "y": {"field": "m", "type": "quantitative", "scale": {"domain": [0.384, 93.656], "reverse": true, "nice": false, "zero": false}},
  "text": {"field": "cl", "type": "nominal"}
 }}
]
},
{
"layer": [
{"data": {"values": [{}]},
 "mark": {"type": "rect", "fill": "#f6f6f6", "stroke": "#d2d2d2", "strokeWidth": 0.8},
 "encoding": {
  "x": {"datum": 0, "scale": {"domain": [0, 660], "nice": false, "zero": false}},
  "x2": {"datum": 134},
  "y": {"datum": -3.17, "scale": {"domain": [-23.83, 80.45], "reverse": true, "nice": false, "zero": false}},
  "y2": {"datum": 28.15}
 }},
{"data": {"values": [{}]},
 "mark": {"type": "rect", "fill": "white", "stroke": "#c4c4c4", "strokeWidth": 0.7},
 "encoding": {
  "x": {"datum": 0.5, "scale": {"domain": [0, 660], "nice": false, "zero": false}},
  "x2": {"datum": 133.5},
  "y": {"datum": -2.89, "scale": {"domain": [-23.83, 80.45], "reverse": true, "nice": false, "zero": false}},
  "y2": {"datum": -1.1}
 }},
{"data": {"values": [{}]},
 "mark": {"type": "rect", "fill": "#f9c89c", "stroke": "#d9a274", "strokeWidth": 0.7},
 "encoding": {
  "x": {"datum": 1.5, "scale": {"domain": [0, 660], "nice": false, "zero": false}},
  "x2": {"datum": 29},
  "y": {"datum": -2.75, "scale": {"domain": [-23.83, 80.45], "reverse": true, "nice": false, "zero": false}},
  "y2": {"datum": -1.25}
 }},
{"data": {"values": [{}]},
 "mark": {"type": "rect", "fill": "white", "stroke": "#a8a8a8", "strokeWidth": 0.7},
 "encoding": {
  "x": {"datum": 103.3, "scale": {"domain": [0, 660], "nice": false, "zero": false}},
  "x2": {"datum": 113.3},
  "y": {"datum": -1.38, "scale": {"domain": [-23.83, 80.45], "reverse": true, "nice": false, "zero": false}},
  "y2": {"datum": 27.75}
 }},
{"data": {"values": [{}]},
 "mark": {"type": "rect", "fill": "white", "stroke": "#a8a8a8", "strokeWidth": 0.7},
 "encoding": {
  "x": {"datum": 113.3, "scale": {"domain": [0, 660], "nice": false, "zero": false}},
  "x2": {"datum": 122.7},
  "y": {"datum": -1.38, "scale": {"domain": [-23.83, 80.45], "reverse": true, "nice": false, "zero": false}},
  "y2": {"datum": 27.75}
 }},
{"data": {"values": [{"t": "1.2.1.3"}]},
 "mark": {"type": "text", "fontSize": 5.8, "fontWeight": "bold", "align": "center", "baseline": "middle", "color": "#222222"},
 "encoding": {
  "x": {"datum": 15.2, "scale": {"domain": [0, 660], "nice": false, "zero": false}},
  "y": {"datum": -2.0, "scale": {"domain": [-23.83, 80.45], "reverse": true, "nice": false, "zero": false}},
  "text": {"field": "t", "type": "nominal"}
 }},
{"data": {"values": [{"t": "aldehyde dehydrogenase (NAD+)"}]},
 "mark": {"type": "text", "fontSize": 6.2, "fontWeight": "bold", "align": "left", "baseline": "middle", "color": "#222222"},
 "encoding": {
  "x": {"datum": 32, "scale": {"domain": [0, 660], "nice": false, "zero": false}},
  "y": {"datum": -2.0, "scale": {"domain": [-23.83, 80.45], "reverse": true, "nice": false, "zero": false}},
  "text": {"field": "t", "type": "nominal"}
 }},
{"data": {"values": [{"t": "CS"}]},
 "mark": {"type": "text", "fontSize": 5.5, "fontWeight": "bold", "align": "center", "baseline": "middle", "color": "#222222"},
 "encoding": {
  "x": {"datum": 108.3, "scale": {"domain": [0, 660], "nice": false, "zero": false}},
  "y": {"datum": -0.78, "scale": {"domain": [-23.83, 80.45], "reverse": true, "nice": false, "zero": false}},
  "text": {"field": "t", "type": "nominal"}
 }},
{"data": {"values": [{"t": "MS"}]},
 "mark": {"type": "text", "fontSize": 5.5, "fontWeight": "bold", "align": "center", "baseline": "middle", "color": "#222222"},
 "encoding": {
  "x": {"datum": 118, "scale": {"domain": [0, 660], "nice": false, "zero": false}},
  "y": {"datum": -0.78, "scale": {"domain": [-23.83, 80.45], "reverse": true, "nice": false, "zero": false}},
  "text": {"field": "t", "type": "nominal"}
 }},
{"data": {"name": "inset"},
 "mark": {"type": "text", "fontSize": 5.9, "fontWeight": "bold", "align": "left", "baseline": "middle", "color": "#2a2a2a"},
 "encoding": {
  "x": {"datum": 1.5, "scale": {"domain": [0, 660], "nice": false, "zero": false}},
  "y": {"field": "r", "type": "quantitative", "scale": {"domain": [-23.83, 80.45], "reverse": true, "nice": false, "zero": false}},
  "text": {"field": "g", "type": "nominal"}
 }},
{"data": {"name": "inset"}, "transform": [{"flatten": ["sp", "bg"]}],
 "mark": {"type": "point", "shape": "square", "filled": true, "size": 44, "stroke": "#3a3a3a", "strokeWidth": 0.5, "opacity": 1},
 "encoding": {
  "x": {"datum": 52.3, "scale": {"domain": [0, 660], "nice": false, "zero": false}},
  "xOffset": {"field": "sp", "type": "nominal", "scale": {"type": "point", "domain": ["At","Zm","Os","Rc","St","Br"], "range": [0, 36], "padding": 0}},
  "y": {"field": "r", "type": "quantitative", "scale": {"domain": [-23.83, 80.45], "reverse": true, "nice": false, "zero": false}},
  "fill": {"field": "bg", "type": "nominal", "scale": {"domain": ["At","Zm","Os","Rc","St","Br","A","P","C","M","Y","L"], "range": ["#37b34a","#e2312d","#d470cc","#6b2ba9","#f59b4c","#efdf1f","#50b6c9","#f5a866","#4b4a8d","#c96a6a","#e4d36c","#4c92c3"]}}
 }},
{"data": {"name": "inset"}, "transform": [{"flatten": ["sp", "bg"]}],
 "mark": {"type": "circle", "size": 12, "opacity": 1},
 "encoding": {
  "x": {"datum": 52.3, "scale": {"domain": [0, 660], "nice": false, "zero": false}},
  "xOffset": {"field": "sp", "type": "nominal", "scale": {"type": "point", "domain": ["At","Zm","Os","Rc","St","Br"], "range": [0, 36], "padding": 0}},
  "y": {"field": "r", "type": "quantitative", "scale": {"domain": [-23.83, 80.45], "reverse": true, "nice": false, "zero": false}},
  "fill": {"field": "sp", "type": "nominal", "scale": {"domain": ["At","Zm","Os","Rc","St","Br","A","P","C","M","Y","L"], "range": ["#37b34a","#e2312d","#d470cc","#6b2ba9","#f59b4c","#efdf1f","#50b6c9","#f5a866","#4b4a8d","#c96a6a","#e4d36c","#4c92c3"]}}
 }},
{"data": {"name": "inset"},
 "mark": {"type": "text", "fontSize": 5.2, "align": "center", "baseline": "middle", "color": "#2a2a2a"},
 "encoding": {
  "x": {"datum": 108.3, "scale": {"domain": [0, 660], "nice": false, "zero": false}},
  "y": {"field": "r", "type": "quantitative", "scale": {"domain": [-23.83, 80.45], "reverse": true, "nice": false, "zero": false}},
  "text": {"field": "cs", "type": "nominal"}
 }},
{"data": {"name": "inset"},
 "mark": {"type": "text", "fontSize": 5.2, "align": "center", "baseline": "middle", "color": "#2a2a2a"},
 "encoding": {
  "x": {"datum": 118, "scale": {"domain": [0, 660], "nice": false, "zero": false}},
  "y": {"field": "r", "type": "quantitative", "scale": {"domain": [-23.83, 80.45], "reverse": true, "nice": false, "zero": false}},
  "text": {"field": "ms", "type": "nominal"}
 }}
]
},
{
"layer": [
{"data": {"values": [{"t": "Template plants"}]},
 "mark": {"type": "text", "fontSize": 10, "fontWeight": "bold", "align": "left", "baseline": "middle", "color": "#222222"},
 "encoding": {
  "x": {"datum": 10, "scale": {"domain": [0, 660], "nice": false, "zero": false}},
  "y": {"datum": -1.17, "scale": {"domain": [-34.673, 12.056], "reverse": true, "nice": false, "zero": false}},
  "text": {"field": "t", "type": "nominal"}
 }},
{"data": {"values": [{}]},
 "mark": {"type": "rule", "color": "#555555", "strokeWidth": 1},
 "encoding": {
  "x": {"datum": 8, "scale": {"domain": [0, 660], "nice": false, "zero": false}},
  "x2": {"datum": 98},
  "y": {"datum": -0.72, "scale": {"domain": [-34.673, 12.056], "reverse": true, "nice": false, "zero": false}}
 }},
{"data": {"name": "plants"},
 "mark": {"type": "circle", "size": 68, "opacity": 1},
 "encoding": {
  "x": {"datum": 19, "scale": {"domain": [0, 660], "nice": false, "zero": false}},
  "y": {"field": "k", "type": "quantitative", "scale": {"domain": [-34.673, 12.056], "reverse": true, "nice": false, "zero": false}},
  "fill": {"field": "sp", "type": "nominal", "scale": {"domain": ["At","Zm","Os","Rc","St","Br","A","P","C","M","Y","L"], "range": ["#37b34a","#e2312d","#d470cc","#6b2ba9","#f59b4c","#efdf1f","#50b6c9","#f5a866","#4b4a8d","#c96a6a","#e4d36c","#4c92c3"]}}
 }},
{"data": {"name": "plants"},
 "mark": {"type": "text", "fontSize": 10, "align": "left", "baseline": "middle", "color": "#333333"},
 "encoding": {
  "x": {"datum": 31.5, "scale": {"domain": [0, 660], "nice": false, "zero": false}},
  "y": {"field": "k", "type": "quantitative", "scale": {"domain": [-34.673, 12.056], "reverse": true, "nice": false, "zero": false}},
  "text": {"field": "lab", "type": "nominal"}
 }}
]
},
{
"layer": [
{"data": {"values": [{}]},
 "mark": {"type": "rect", "fill": "white", "stroke": "#e2e2e2", "strokeWidth": 1},
 "encoding": {
  "x": {"datum": 8, "scale": {"domain": [0, 660], "nice": false, "zero": false}},
  "x2": {"datum": 104},
  "y": {"datum": -0.51, "scale": {"domain": [-36.142, 3.7], "reverse": true, "nice": false, "zero": false}},
  "y2": {"datum": 3.62}
 }},
{"data": {"values": [{"t": "Domains"}]},
 "mark": {"type": "text", "fontSize": 10, "fontWeight": "bold", "align": "left", "baseline": "middle", "color": "#222222"},
 "encoding": {
  "x": {"datum": 10, "scale": {"domain": [0, 660], "nice": false, "zero": false}},
  "y": {"datum": -1.053, "scale": {"domain": [-36.142, 3.7], "reverse": true, "nice": false, "zero": false}},
  "text": {"field": "t", "type": "nominal"}
 }},
{"data": {"values": [{}]},
 "mark": {"type": "rule", "color": "#777777", "strokeWidth": 1.5},
 "encoding": {
  "x": {"datum": 8, "scale": {"domain": [0, 660], "nice": false, "zero": false}},
  "x2": {"datum": 98},
  "y": {"datum": -0.668, "scale": {"domain": [-36.142, 3.7], "reverse": true, "nice": false, "zero": false}}
 }},
{"data": {"name": "doms"},
 "mark": {"type": "point", "filled": true, "size": 196, "opacity": 1, "stroke": "#666666", "strokeWidth": 0.6},
 "encoding": {
  "x": {"datum": 20, "scale": {"domain": [0, 660], "nice": false, "zero": false}},
  "y": {"field": "k", "type": "quantitative", "scale": {"domain": [-36.142, 3.7], "reverse": true, "nice": false, "zero": false}},
  "shape": {"field": "dm", "type": "nominal", "scale": {"domain": ["P","A","C","M"], "range": ["M-1,-0.72L1,0L-1,0.72Z", "M1,-0.72L-1,0L1,0.72Z", "M-1,0L-0.45,-0.62L0.5,-0.62L1,0L0.5,0.62L-0.45,0.62Z", "M0,-0.72L0.72,0L0,0.72L-0.72,0Z"]}},
  "fill": {"field": "dm", "type": "nominal", "scale": {"domain": ["At","Zm","Os","Rc","St","Br","A","P","C","M","Y","L"], "range": ["#37b34a","#e2312d","#d470cc","#6b2ba9","#f59b4c","#efdf1f","#50b6c9","#f5a866","#4b4a8d","#c96a6a","#e4d36c","#4c92c3"]}}
 }},
{"data": {"name": "doms"},
 "mark": {"type": "text", "fontSize": 10, "align": "left", "baseline": "middle", "color": "#333333"},
 "encoding": {
  "x": {"datum": 33.3, "scale": {"domain": [0, 660], "nice": false, "zero": false}},
  "y": {"field": "k", "type": "quantitative", "scale": {"domain": [-36.142, 3.7], "reverse": true, "nice": false, "zero": false}},
  "text": {"field": "lab", "type": "nominal"}
 }}
]
}
],
"resolve": {"scale": {"y": "independent", "xOffset": "independent"}}
}
